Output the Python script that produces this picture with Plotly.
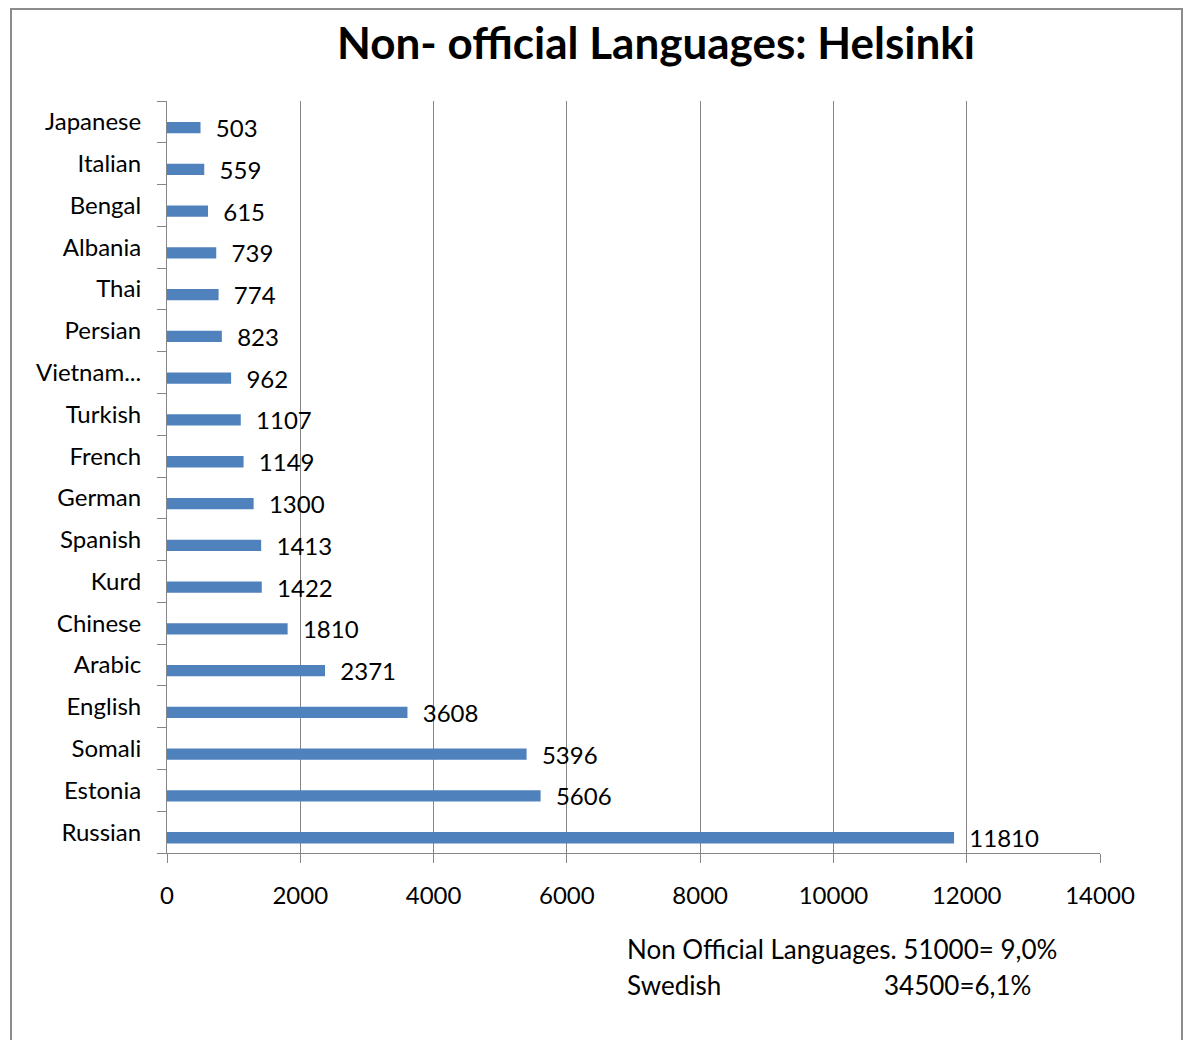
import plotly.graph_objects as go

languages = ["Russian", "Estonia", "Somali", "English", "Arabic", "Chinese", "Kurd",
             "Spanish", "German", "French", "Turkish", "Vietnam...", "Persian", "Thai",
             "Albania", "Bengal", "Italian", "Japanese"]
speakers = [11810, 5606, 5396, 3608, 2371, 1810, 1422, 1413, 1300, 1149, 1107, 962,
            823, 774, 739, 615, 559, 503]
x_ticks = [0, 2000, 4000, 6000, 8000, 10000, 12000, 14000]

W, H = 1192, 1048
OFF = 8  # page body margin
L, R, T, B = 167, 1100, 101, 853
FONT = "Lato, 'Open Sans', sans-serif"
FIG_W, FIG_H = W - 2 * OFF, H - 2 * OFF

def px_x(p):
    return (p - L) / (R - L)

def px_y(p):
    return (B - p) / (B - T)

fig = go.Figure()
fig.add_trace(go.Bar(
    y=languages, x=speakers, orientation="h",
    marker=dict(color="#4F81BD", line=dict(width=0)),
    width=0.27, offset=-0.27,
    text=[str(v) for v in speakers], texttemplate="  %{text}", textposition="outside",
    constraintext="none",
    textfont=dict(size=24, color="#000000", family=FONT),
    cliponaxis=False,
))

fig.update_layout(
    width=FIG_W, height=FIG_H,
    margin=dict(l=L - OFF, r=FIG_W + OFF - R, t=T - OFF, b=FIG_H + OFF - B, autoexpand=False),
    paper_bgcolor="white", plot_bgcolor="white",
    showlegend=False,
    font=dict(family=FONT, size=24, color="#000000"),
    title=dict(text="<b>Non- official Languages: Helsinki</b>",
               x=(656 - OFF) / FIG_W, xanchor="center",
               y=1 - (44 - OFF) / FIG_H, yanchor="middle",
               font=dict(size=44, family=FONT, color="#000000")),
    xaxis=dict(range=[0, 14000], tickvals=x_ticks, tickformat="d", showgrid=True,
               gridcolor="#868686", gridwidth=1, zeroline=False,
               showline=True, linecolor="#868686", linewidth=1,
               ticks="outside", ticklen=9, tickcolor="#868686",
               ticklabelstandoff=12,
               tickfont=dict(size=24, color="#000000")),
    yaxis=dict(categoryorder="array", categoryarray=languages,
               range=[-0.5, len(languages) - 0.5],
               showline=True, linecolor="#868686", linewidth=1,
               ticks="outside", ticklen=9, tickcolor="#868686",
               tickson="boundaries", showgrid=False,
               ticklabelstandoff=20,
               tickfont=dict(size=24, color="#000000")),
    bargap=0.7,
)

# chart frame
fig.add_shape(type="rect", xref="paper", yref="paper",
              x0=px_x(11), x1=px_x(1182), y0=px_y(1070), y1=px_y(9),
              line=dict(color="#8C8C8C", width=2), fillcolor="rgba(0,0,0,0)",
              layer="below")

note_font = dict(size=26, family=FONT, color="#000000")
fig.add_annotation(text="Non Official Languages. 51000= 9,0%", xref="paper", yref="paper",
                   x=px_x(625), y=px_y(949), xanchor="left", yanchor="middle",
                   showarrow=False, font=note_font)
fig.add_annotation(text="Swedish", xref="paper", yref="paper",
                   x=px_x(625), y=px_y(985), xanchor="left", yanchor="middle",
                   showarrow=False, font=note_font)
fig.add_annotation(text="34500=6,1%", xref="paper", yref="paper",
                   x=px_x(882), y=px_y(985), xanchor="left", yanchor="middle",
                   showarrow=False, font=note_font)

fig.write_html("out.html")
